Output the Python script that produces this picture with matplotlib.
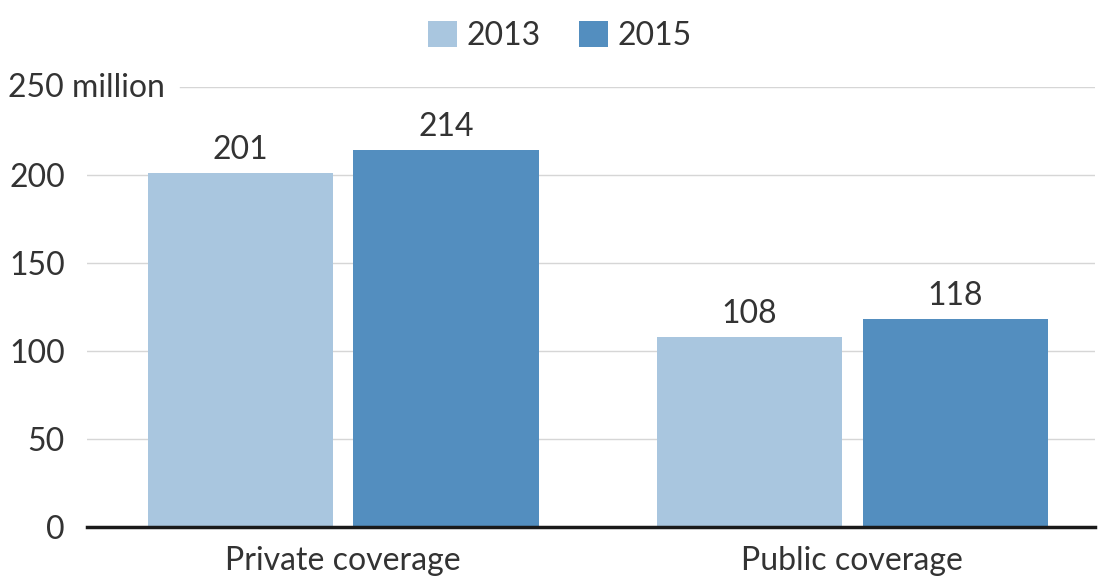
import matplotlib.pyplot as plt
import numpy as np

plt.rcParams['font.family'] = ['Lato', 'DejaVu Sans']

categories = ["Private coverage", "Public coverage"]
years = ["2013", "2015"]
values_2013 = [201, 108]
values_2015 = [214, 118]
yticks = [0, 50, 100, 150, 200, 250]

c_2013 = "#a9c6df"
c_2015 = "#538ebf"
txt = "#333333"
fs = 23

fig = plt.figure(figsize=(10.99, 5.8), dpi=100)
ax = fig.add_axes([87 / 1099, 53 / 580, 1008 / 1099, 440 / 580])

x = np.arange(len(categories))
w = 0.3635
off = 0.2019
b1 = ax.bar(x - off, values_2013, w, color=c_2013, label=years[0], zorder=2)
b2 = ax.bar(x + off, values_2015, w, color=c_2015, label=years[1], zorder=2)

for bars in (b1, b2):
    for b in bars:
        ax.annotate(str(int(b.get_height())), (b.get_x() + b.get_width() / 2, b.get_height()),
                    xytext=(0, 6), textcoords="offset points", ha="center", va="bottom",
                    fontsize=fs, color=txt)

ax.set_xlim(-0.5034, 1.4769)
ax.set_ylim(0, 250)

# gridlines
for t in yticks[1:]:
    xmin = 93 / 1008 if t == 250 else 0
    ax.axhline(t, xmin=xmin, color="#d6d6d6", lw=1, zorder=1)
ax.axhline(0, color="#1a1a1a", lw=2.5, zorder=3, clip_on=False)

for s in ax.spines.values():
    s.set_visible(False)

ax.set_yticks(yticks[:-1])
ax.set_yticklabels([str(t) for t in yticks[:-1]], fontsize=fs, color=txt)
ax.tick_params(axis="y", length=0, pad=16)
ax.text(8 / 1099, 1 - 88 / 580, "250 million", transform=fig.transFigure,
        ha="left", va="center", fontsize=fs, color=txt)

ax.set_xticks(x)
ax.set_xticklabels(categories, fontsize=fs, color=txt)
ax.tick_params(axis="x", length=0, pad=14)

fig.legend(loc="center", bbox_to_anchor=(560 / 1099, 1 - 36 / 580), ncol=2,
           frameon=False, fontsize=fs, handlelength=0.9, handleheight=0.9,
           handletextpad=0.3, columnspacing=1.2, labelcolor=txt)

fig.savefig("out.png", dpi=100)
